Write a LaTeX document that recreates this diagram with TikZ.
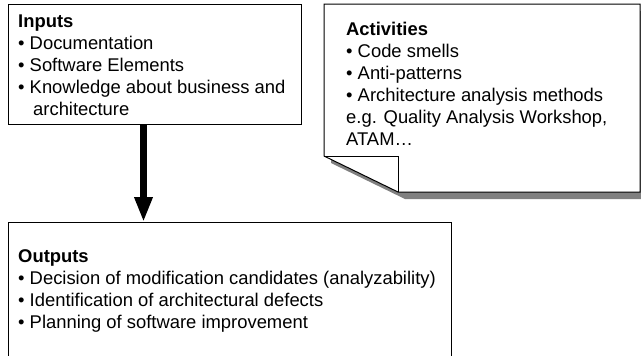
\documentclass[tikz,border=0pt]{standalone}
\usepackage{fontspec}
\setmainfont{Liberation Sans}
\usetikzlibrary{arrows.meta}
\begin{document}
\begin{tikzpicture}[x=1pt,y=-1pt,
  box/.style={draw=black, line width=1pt, fill=white, inner sep=0pt, anchor=north west},
  txt/.style={anchor=north west, inner sep=0pt, align=left,
              font=\fontsize{18.4}{22}\selectfont},
  edge/.style={line width=1pt},
  bigarrow/.style={line width=7pt, -{Triangle[length=25pt,width=17pt]}},
  shade/.style={fill=black!50}]
\clip (0,0) rectangle (641,356);
\fill[white] (0,0) rectangle (641,356);

% Inputs
\node[box, minimum width=293pt, minimum height=120pt] (inputs) at (8,4) {};
\node[txt] (intext) at (18,11.6)
  {\strut\textbf{Inputs}\\
   • Documentation\\
   • Software Elements\\
   • Knowledge about business and\\
   \hspace*{15pt}architecture};

% Activities: note with a folded corner and a drop shadow
\fill[shade, shift={(7,7)}] (324,4) -- (640,4) -- (640,192) -- (398,192) -- (324,156) -- cycle;
\draw[edge, fill=white] (324,4) -- (640,4) -- (640,192) -- (398,192) -- (324,156) -- cycle;
\draw[edge] (324,156) -- (398,156) -- (398,192);
\node[txt] (activities) at (346,19.6)
  {\strut\textbf{Activities}\\
   • Code smells\\
   • Anti-patterns\\
   • Architecture analysis methods\\
   e.g. Quality Analysis Workshop,\\
   ATAM…};

% Outputs
\node[box, minimum width=443pt, minimum height=160pt] (outputs) at (8,222) {};
\node[txt] (outtext) at (18,247.3)
  {\strut\textbf{Outputs}\\
   • Decision of modification candidates (analyzability)\\
   • Identification of architectural defects\\
   • Planning of software improvement};

% Flow from inputs to outputs
\draw[bigarrow] ([xshift=135.5pt]inputs.south west) -- ([xshift=135.5pt]outputs.north west);
\end{tikzpicture}
\end{document}
